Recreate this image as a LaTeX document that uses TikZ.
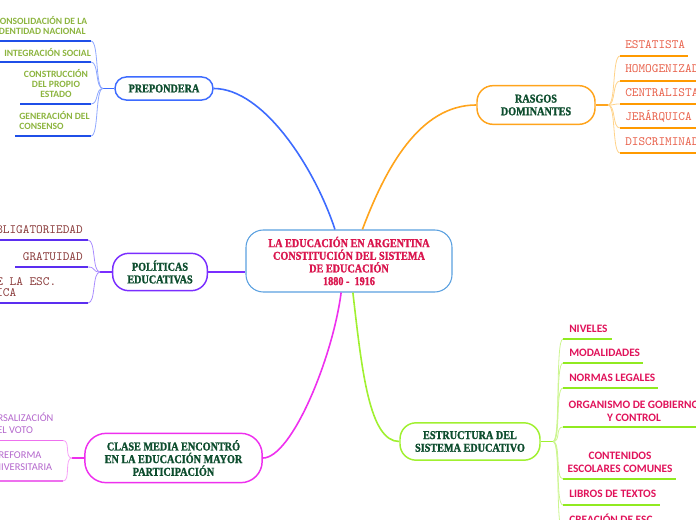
\documentclass[tikz,border=0pt]{standalone}
\usepackage{fontspec}
\usepackage{tikz}
\usetikzlibrary{positioning}
\newfontfamily\topicfont{Liberation Serif}[FakeStretch=0.85,BoldFeatures={FakeBold=1.3}]
\newfontfamily\leaffont{Carlito}
\definecolor{TopicGreen}{RGB}{13,77,46}
\definecolor{CentreRed}{RGB}{218,22,78}
\definecolor{CentreBlue}{RGB}{90,160,224}
\definecolor{PrepBlue}{RGB}{61,107,255}
\definecolor{PrepLight}{RGB}{143,168,255}
\definecolor{PrepDark}{RGB}{31,79,232}
\definecolor{RasOrange}{RGB}{255,164,28}
\definecolor{RasLight}{RGB}{255,211,138}
\definecolor{RasDark}{RGB}{255,154,0}
\definecolor{PolPurple}{RGB}{122,46,255}
\definecolor{PolLight}{RGB}{169,140,255}
\definecolor{PolDark}{RGB}{91,46,240}
\definecolor{ClaMagenta}{RGB}{238,48,238}
\definecolor{ClaLight}{RGB}{247,160,247}
\definecolor{ClaDark}{RGB}{238,112,238}
\definecolor{EstLime}{RGB}{160,240,48}
\definecolor{EstLight}{RGB}{204,245,144}
\definecolor{EstDark}{RGB}{144,234,32}
\definecolor{LeafOlive}{RGB}{140,180,62}
\definecolor{LeafSalmon}{RGB}{232,96,74}
\definecolor{LeafMaroon}{RGB}{138,59,59}
\definecolor{LeafLilac}{RGB}{179,102,204}
\definecolor{LeafRose}{RGB}{224,18,90}

\begin{document}
\begin{tikzpicture}[x=0.75pt,y=-0.75pt,
        topic/.style={draw,fill=white,line width=1.1pt,align=center,inner sep=2pt,
                      font=\topicfont\bfseries\fontsize{9}{9.5}\selectfont,text=TopicGreen},
        leaf/.style={inner sep=0pt,text depth=0pt,align=center},
        olive/.style={leaf,text=LeafOlive,font=\leaffont\bfseries\fontsize{7.2}{7.5}\selectfont},
        salmon/.style={leaf,text=LeafSalmon,font=\ttfamily\fontsize{9.5}{10}\selectfont},
        maroon/.style={leaf,text=LeafMaroon,font=\ttfamily\fontsize{9.5}{8.25}\selectfont},
        lilac/.style={leaf,text=LeafLilac,font=\leaffont\fontsize{7.8}{9.5}\selectfont},
        rose/.style={leaf,text=LeafRose,font=\leaffont\bfseries\fontsize{8.5}{9.75}\selectfont},
        br/.style={line width=1.2pt},
        sub/.style={line width=0.6pt},
        uline/.style={line width=1.1pt}
      ]
        \useasboundingbox (0,0) rectangle (696,520);
        \clip (0,0) rectangle (696,520);

        % main topics
        \node[topic,draw=CentreBlue,line width=0.8pt,text=CentreRed,rounded corners=13pt,
              minimum width=154.5pt,minimum height=46.5pt] (centre) at (349,261)
              {LA EDUCACIÓN EN ARGENTINA\\CONSTITUCIÓN DEL SISTEMA\\DE EDUCACIÓN\\1880 -\ \ 1916};
        \node[topic,draw=PrepBlue,rounded corners=8.5pt,minimum width=73.5pt,minimum height=17.3pt] (prep) at (164,88.5) {PREPONDERA};
        \node[topic,draw=RasOrange,rounded corners=12pt,minimum width=88.5pt,minimum height=29pt] (rasgos) at (536,105) {RASGOS\\DOMINANTES};
        \node[topic,draw=PolPurple,rounded corners=12pt,minimum width=71pt,minimum height=28pt] (pol) at (160,272) {POLÍTICAS\\EDUCATIVAS};
        \node[topic,draw=ClaMagenta,rounded corners=16pt,minimum width=133pt,minimum height=37pt] (clase) at (173.5,458) {CLASE MEDIA ENCONTRÓ\\EN LA EDUCACIÓN MAYOR\\PARTICIPACIÓN};
        \node[topic,draw=EstLime,rounded corners=12pt,minimum width=105pt,minimum height=28pt] (estr) at (470,441.5) {ESTRUCTURA DEL\\SISTEMA EDUCATIVO};

        \draw[br,PrepBlue] (prep.east) .. controls +(50,0) and +(-20,-61) .. (centre.114);
        \draw[br,RasOrange] (centre.67) .. controls +(23,-61) and +(-57,0) .. (rasgos.west);
        \draw[line width=1.4pt,PolPurple] (pol.east) -- (pol.east -| centre.west);
        \draw[br,ClaMagenta] (clase.east) .. controls +(28,0) and +(-9,68) .. (centre.256);
        \draw[br,EstLime] (centre.277) .. controls +(9,78) and +(-30,0) .. (estr.west);

        % PREPONDERA
        \coordinate (prepB) at (103,88.5);
        \draw[uline,PrepBlue] (prep.west) -- (prepB);
        \node[olive,anchor=south] (consol) at (41,35) {CONSOLIDACIÓN DE LA\\IDENTIDAD NACIONAL};
        \node[olive,anchor=south west] (integ) at (4,57) {INTEGRACIÓN SOCIAL};
        \node[olive,anchor=south] (constr) at (56,98) {CONSTRUCCIÓN\\DEL PROPIO\\ESTADO};
        \node[olive,anchor=south west,align=left] (gener) at (19,130) {GENERACIÓN DEL\\CONSENSO};
        \coordinate (consolU) at (91,41);  \coordinate (consolE) at (-2,41);
        \coordinate (integU) at (91,62);   \coordinate (integE) at (-2,62);
        \coordinate (constrU) at (91,104); \coordinate (constrE) at (20,104);
        \coordinate (generU) at (91,136);  \coordinate (generE) at (15,136);
        \draw[sub,PrepLight] (prepB) .. controls +(-8,0) and +(8,0) .. (consolU);
        \draw[sub,PrepLight] (prepB) .. controls +(-8,0) and +(8,0) .. (integU);
        \draw[sub,PrepLight] (prepB) .. controls +(-8,0) and +(8,0) .. (constrU);
        \draw[sub,PrepLight] (prepB) .. controls +(-8,0) and +(8,0) .. (generU);
        \draw[uline,PrepDark] (consolU) -- (consolE);
        \draw[uline,PrepDark] (integU) -- (integE);
        \draw[uline,PrepDark] (constrU) -- (constrE);
        \draw[uline,PrepDark] (generU) -- (generE);

        % RASGOS DOMINANTES
        \coordinate (rasB) at (608,105);
        \draw[uline,RasOrange] (rasgos.east) -- (rasB);
        \node[salmon,anchor=south west] (estat) at (625,49) {ESTATISTA};
        \node[salmon,anchor=south west] (homog) at (625,73) {HOMOGENIZADORA};
        \node[salmon,anchor=south west] (centr) at (625,97) {CENTRALISTA};
        \node[salmon,anchor=south west] (jerar) at (625,121) {JERÁRQUICA};
        \node[salmon,anchor=south west] (discr) at (625,146) {DISCRIMINADORA};
        \coordinate (estatU) at (620,56);  \coordinate (estatE) at (688,56);
        \coordinate (homogU) at (620,81);  \coordinate (homogE) at (700,81);
        \coordinate (centrU) at (620,104); \coordinate (centrE) at (700,104);
        \coordinate (jerarU) at (620,128); \coordinate (jerarE) at (700,128);
        \coordinate (discrU) at (620,153); \coordinate (discrE) at (700,153);
        \draw[sub,RasLight] (rasB) .. controls +(8,0) and +(-8,0) .. (estatU);
        \draw[sub,RasLight] (rasB) .. controls +(8,0) and +(-8,0) .. (homogU);
        \draw[sub,RasLight] (rasB) .. controls +(8,0) and +(-8,0) .. (centrU);
        \draw[sub,RasLight] (rasB) .. controls +(8,0) and +(-8,0) .. (jerarU);
        \draw[sub,RasLight] (rasB) .. controls +(8,0) and +(-8,0) .. (discrU);
        \draw[uline,RasDark] (estatU) -- (estatE);
        \draw[uline,RasDark] (homogU) -- (homogE);
        \draw[uline,RasDark] (centrU) -- (centrE);
        \draw[uline,RasDark] (jerarU) -- (jerarE);
        \draw[uline,RasDark] (discrU) -- (discrE);

        % POLITICAS EDUCATIVAS
        \coordinate (polB) at (100,272);
        \draw[uline,PolPurple] (pol.west) -- (polB);
        \node[maroon,anchor=south east] (oblig) at (83,234) {OBLIGATORIEDAD};
        \node[maroon,anchor=south east] (grat) at (83,261) {GRATUIDAD};
        \node[maroon,anchor=south] (laic) at (-7,297) {LAICIDAD DE LA ESC.\\PÚBLICA};
        \coordinate (obligU) at (88,240); \coordinate (obligE) at (-2,240);
        \coordinate (gratU) at (88,267);  \coordinate (gratE) at (15,267);
        \coordinate (laicU) at (88,303);  \coordinate (laicE) at (-2,303);
        \draw[sub,PolLight] (polB) .. controls +(-8,0) and +(8,0) .. (obligU);
        \draw[sub,PolLight] (polB) .. controls +(-8,0) and +(8,0) .. (gratU);
        \draw[sub,PolLight] (polB) .. controls +(-8,0) and +(8,0) .. (laicU);
        \draw[uline,PolDark] (obligU) -- (obligE);
        \draw[uline,PolDark] (gratU) -- (gratE);
        \draw[uline,PolDark] (laicU) -- (laicE);

        % CLASE MEDIA
        \coordinate (claB) at (72,458);
        \draw[uline,ClaMagenta] (clase.west) -- (claB);
        \node[lilac,anchor=south] (univ) at (12,434) {UNIVERSALIZACIÓN\\DEL VOTO};
        \node[lilac,anchor=south] (refor) at (20,471) {REFORMA\\UNIVERSITARIA};
        \coordinate (univU) at (63,440.5); \coordinate (univE) at (-2,440.5);
        \coordinate (reforU) at (63,481);  \coordinate (reforE) at (-2,481);
        \draw[sub,ClaLight] (claB) .. controls +(-8,0) and +(8,0) .. (univU);
        \draw[sub,ClaLight] (claB) .. controls +(-8,0) and +(8,0) .. (reforU);
        \draw[uline,ClaDark] (univU) -- (univE);
        \draw[uline,ClaDark] (reforU) -- (reforE);

        % ESTRUCTURA DEL SISTEMA
        \coordinate (estB) at (553,441.5);
        \draw[uline,EstLime] (estr.east) -- (estB);
        \node[rose,anchor=south west] (nivel) at (569,333) {NIVELES};
        \node[rose,anchor=south west] (modal) at (569,357) {MODALIDADES};
        \node[rose,anchor=south west] (norma) at (569,382) {NORMAS LEGALES};
        \node[rose,anchor=south] (organ) at (634,422) {ORGANISMO DE GOBIERNO\\Y CONTROL};
        \node[rose,anchor=south] (conte) at (620,473) {CONTENIDOS\\ESCOLARES COMUNES};
        \node[rose,anchor=south west] (libro) at (569,498) {LIBROS DE TEXTOS};
        \node[rose,anchor=south west] (creac) at (569,524) {CREACIÓN DE ESC.};
        \coordinate (nivelU) at (563,339); \coordinate (nivelE) at (612,339);
        \coordinate (modalU) at (563,363); \coordinate (modalE) at (643,363);
        \coordinate (normaU) at (563,388); \coordinate (normaE) at (658,388);
        \coordinate (organU) at (563,427); \coordinate (organE) at (700,427);
        \coordinate (conteU) at (563,479); \coordinate (conteE) at (676,479);
        \coordinate (libroU) at (563,505); \coordinate (libroE) at (660,505);
        \coordinate (creacU) at (563,531); \coordinate (creacE) at (660,531);
        \draw[sub,EstLight] (estB) .. controls +(8,0) and +(-8,0) .. (nivelU);
        \draw[sub,EstLight] (estB) .. controls +(8,0) and +(-8,0) .. (modalU);
        \draw[sub,EstLight] (estB) .. controls +(8,0) and +(-8,0) .. (normaU);
        \draw[sub,EstLight] (estB) .. controls +(8,0) and +(-8,0) .. (organU);
        \draw[sub,EstLight] (estB) .. controls +(8,0) and +(-8,0) .. (conteU);
        \draw[sub,EstLight] (estB) .. controls +(8,0) and +(-8,0) .. (libroU);
        \draw[sub,EstLight] (estB) .. controls +(8,0) and +(-8,0) .. (creacU);
        \draw[uline,EstDark] (nivelU) -- (nivelE);
        \draw[uline,EstDark] (modalU) -- (modalE);
        \draw[uline,EstDark] (normaU) -- (normaE);
        \draw[uline,EstDark] (organU) -- (organE);
        \draw[uline,EstDark] (conteU) -- (conteE);
        \draw[uline,EstDark] (libroU) -- (libroE);
        \draw[uline,EstDark] (creacU) -- (creacE);
      \end{tikzpicture}
\end{document}
